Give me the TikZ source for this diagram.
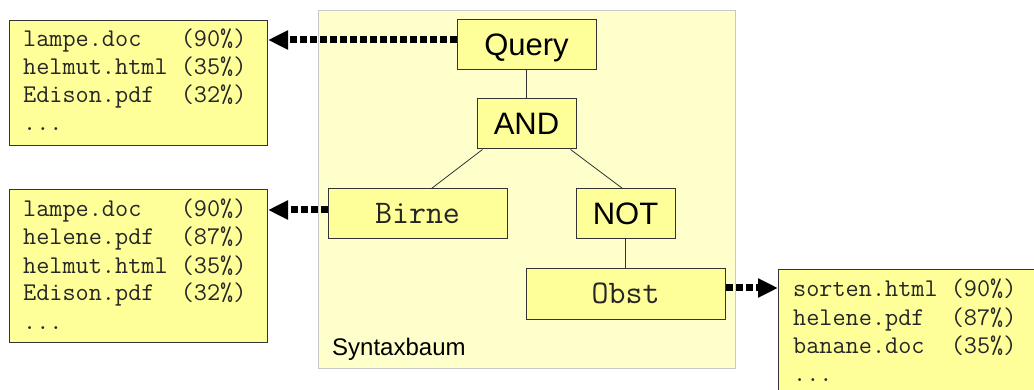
\documentclass[tikz,border=0pt]{standalone}
\usepackage{fontspec}
\setmainfont{Liberation Sans}
\usetikzlibrary{arrows.meta}
\definecolor{boxfill}{HTML}{FFFF99}
\definecolor{contfill}{HTML}{FFFFCC}
\definecolor{contline}{HTML}{C8C8C8}
\definecolor{boxline}{HTML}{333333}
\newcommand\msp{\hphantom{0}}
\tikzset{
  container/.style={draw=contline, fill=contfill, line width=1pt, rectangle, inner sep=0pt},
  treebox/.style={draw=boxline, fill=boxfill, line width=1pt, rectangle, inner sep=0pt},
  listbox/.style={draw=boxline, fill=boxfill, line width=1pt, rectangle, inner sep=0pt},
  sanslabel/.style={font=\fontsize{31}{36}\selectfont, text=black, text height=22pt, text depth=0pt},
  monolabel/.style={font=\ttfamily\fontsize{33}{38}\selectfont, text=black!85, text height=20pt, text depth=0pt},
  listline/.style={font=\ttfamily\fontsize{25.5}{28}\selectfont, text=black!85, anchor=base west, inner sep=0pt},
  treeline/.style={draw=boxline, line width=0.8pt},
  result/.style={line width=7pt, dash pattern=on 7pt off 3pt, -{Triangle[length=20pt,width=18pt]}},
}
\begin{document}
\begin{tikzpicture}[x=1pt,y=-1pt]
\useasboundingbox (0,0) rectangle (1034,390);
% container
\node[container, minimum width=417pt, minimum height=358pt, anchor=north west] (tree) at (318,10) {};
\node[anchor=base west, inner sep=0pt, font=\fontsize{24}{28}\selectfont] (lbl) at (332,355) {Syntaxbaum};
% tree nodes
\node[treebox, sanslabel, minimum width=139pt, minimum height=50pt] (q) at (526.5,45) {Query};
\node[treebox, sanslabel, minimum width=99pt, minimum height=50pt] (and) at (526.5,124) {AND};
\node[treebox, monolabel, minimum width=179pt, minimum height=50pt] (birne) at (417.5,214) {Birne};
\node[treebox, sanslabel, minimum width=99pt, minimum height=50pt] (not) at (625.5,214) {NOT};
\node[treebox, monolabel, minimum width=199pt, minimum height=50pt] (obst) at (625.5,294) {Obst};
% tree lines
\draw[treeline] (q.south) -- (and.north);
\draw[treeline] ([xshift=6pt]and.south west) -- ([xshift=14pt]birne.north);
\draw[treeline] ([xshift=-6pt]and.south east) -- ([xshift=-3pt]not.north);
\draw[treeline] (not.south) -- (obst.north);
% list boxes
\node[listbox, minimum width=258pt, minimum height=125pt, anchor=north west] (l1) at (9,20) {};
\node[listline] (l1a) at (23,47) {lampe.doc\msp\msp\msp(90\%)};
\node[listline] (l1b) at (23,75) {helmut.html\msp(35\%)};
\node[listline] (l1c) at (23,103) {Edison.pdf\msp\msp(32\%)};
\node[listline] (l1d) at (23,131) {...};
\node[listbox, minimum width=258pt, minimum height=153pt, anchor=north west] (l2) at (9,189) {};
\node[listline] (l2a) at (23,217) {lampe.doc\msp\msp\msp(90\%)};
\node[listline] (l2b) at (23,245) {helene.pdf\msp\msp(87\%)};
\node[listline] (l2c) at (23,273) {helmut.html\msp(35\%)};
\node[listline] (l2d) at (23,301) {Edison.pdf\msp\msp(32\%)};
\node[listline] (l2e) at (23,329) {...};
\node[listbox, minimum width=267pt, minimum height=135pt, anchor=north west] (l3) at (778,269) {};
\node[listline] (l3a) at (793,297) {sorten.html\msp(90\%)};
\node[listline] (l3b) at (793,325) {helene.pdf\msp\msp(87\%)};
\node[listline] (l3c) at (793,353) {banane.doc\msp\msp(35\%)};
\node[listline] (l3d) at (793,381) {...};
% result arrows
\draw[result] ([yshift=5pt]q.west) -- ([yshift=5pt]q.west -| l1.east);
\draw[result] ([yshift=4pt]birne.west) -- ([yshift=4pt]birne.west -| l2.east);
\draw[result] ([yshift=6pt]obst.east) -- ([yshift=6pt]obst.east -| l3.west);
\end{tikzpicture}
\end{document}
